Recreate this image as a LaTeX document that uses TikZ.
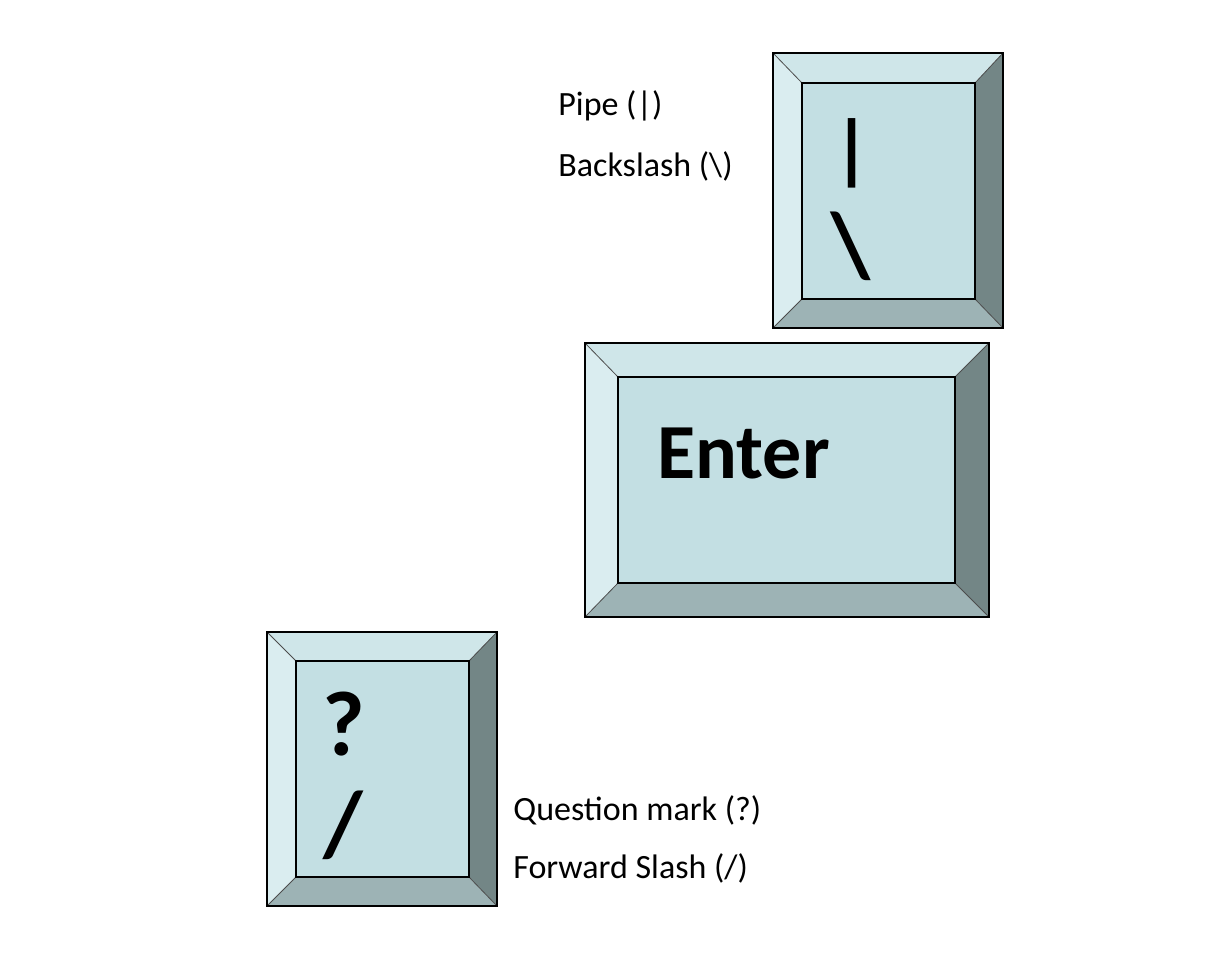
\documentclass[tikz,border=0pt]{standalone}
\usepackage{fontspec}
\setmainfont{Carlito}
\usepackage{tikz}

\definecolor{keyface}{HTML}{C3DFE3}
\definecolor{keytop}{HTML}{CFE6E9}
\definecolor{keyleft}{HTML}{DAEDF0}
\definecolor{keyright}{HTML}{738686}
\definecolor{keybottom}{HTML}{9DB3B5}

% key cap: name, outer corners, inner corners
\newcommand{\keycap}[9]{%
  \coordinate (#1-onw) at (#2,#3);
  \coordinate (#1-one) at (#4,#3);
  \coordinate (#1-ose) at (#4,#5);
  \coordinate (#1-osw) at (#2,#5);
  \coordinate (#1-inw) at (#6,#7);
  \coordinate (#1-ine) at (#8,#7);
  \coordinate (#1-ise) at (#8,#9);
  \coordinate (#1-isw) at (#6,#9);
  \fill[keytop] (#1-onw) -- (#1-one) -- (#1-ine) -- (#1-inw) -- cycle;
  \fill[keyleft] (#1-onw) -- (#1-inw) -- (#1-isw) -- (#1-osw) -- cycle;
  \fill[keyright] (#1-one) -- (#1-ose) -- (#1-ise) -- (#1-ine) -- cycle;
  \fill[keybottom] (#1-osw) -- (#1-isw) -- (#1-ise) -- (#1-ose) -- cycle;
  \fill[keyface] (#1-inw) rectangle (#1-ise);
  \draw[bevel] (#1-onw) -- (#1-inw) (#1-one) -- (#1-ine)
    (#1-ose) -- (#1-ise) (#1-osw) -- (#1-isw);
  \draw[keyrim] (#1-inw) rectangle (#1-ise);
  \draw[keyedge] (#1-onw) rectangle (#1-ose);
}

\begin{document}
\begin{tikzpicture} [x=0.5pt, y=-0.5pt,
  every node/.style={inner sep=0pt},
  keyedge/.style={line width=1pt},
  keyrim/.style={line width=0.75pt},
  bevel/.style={line width=0.4pt, black!70},
  keylabel/.style={anchor=base west, font=\fontsize{17}{20}\selectfont},
  glyph/.style={font=\bfseries\fontsize{46}{54}\selectfont}]
\useasboundingbox (0,0) rectangle (1230,952);

\keycap{pipe}{773}{53}{1003}{328}{802}{83}{975}{299}
\keycap{enter}{585}{343}{989}{617}{618}{377}{955}{583}
\keycap{slash}{267}{632}{497}{906}{296}{661}{469}{877}

\node[glyph, font=\bfseries\fontsize{39}{47}\selectfont] (bar) at (852,153) {|};
\node[glyph] (bsl) at (851,246) {\textbackslash};
\node[anchor=base west, font=\bfseries\fontsize{39}{47}\selectfont] (ent) at (657,478) {Enter};
\node[glyph] (qm) at (344,724) {?};
\node[glyph] (fsl) at (343,825) {/};

\node[keylabel] (lpipe) at (558,116) {Pipe (|)};
\node[keylabel] (lbsl) at (558,177) {Backslash (\textbackslash)};
\node[keylabel] (lqm) at (513,820) {Question mark (?)};
\node[keylabel] (lfsl) at (513,878) {Forward Slash (/)};
\end{tikzpicture}
\end{document}
